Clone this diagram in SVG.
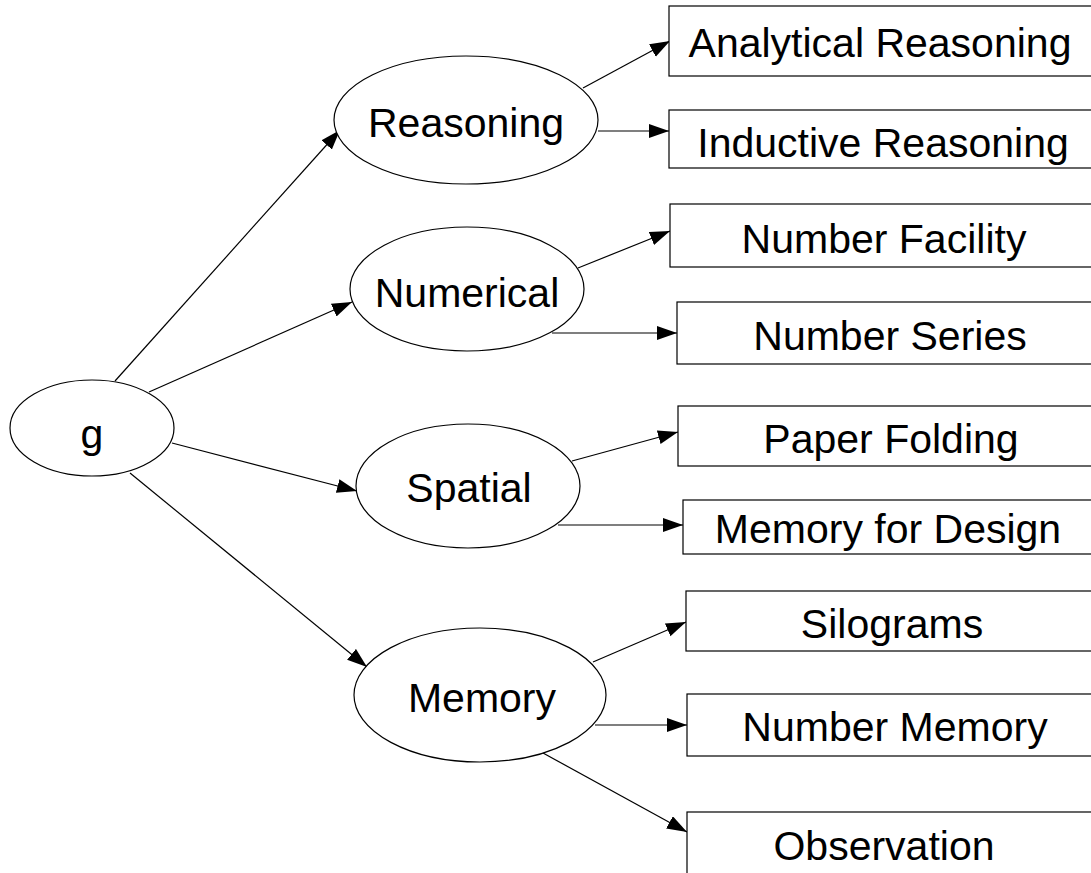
<svg xmlns="http://www.w3.org/2000/svg" width="1091" height="873" viewBox="0 0 1091 873">
<style>
.n ellipse,.n rect{fill:#fff;stroke:#000;stroke-width:1.2}
text{font-family:"Liberation Sans",Arial,sans-serif;font-size:41px;fill:#000;text-anchor:middle}
.e line{stroke:#000;stroke-width:1.2;marker-end:url(#ah)}
</style>
<defs>
<marker id="ah" markerUnits="userSpaceOnUse" markerWidth="22" markerHeight="16" refX="20" refY="7" orient="auto">
<path d="M0,0 L20,7 L0,14 z" fill="#000"/>
</marker>
</defs>
<rect width="1091" height="873" fill="#fff"/>
<g class="e" id="edges">
<line x1="115" y1="381" x2="340" y2="130"/>
<line x1="149" y1="392" x2="352" y2="302"/>
<line x1="172" y1="443" x2="357" y2="491"/>
<line x1="130" y1="473" x2="367" y2="667"/>
<line x1="583" y1="88" x2="670" y2="41"/>
<line x1="598" y1="131" x2="669" y2="131"/>
<line x1="578" y1="268" x2="670" y2="231"/>
<line x1="552" y1="333" x2="677" y2="333"/>
<line x1="572" y1="461" x2="678" y2="432"/>
<line x1="558" y1="525" x2="683" y2="525"/>
<line x1="593" y1="662" x2="686" y2="622"/>
<line x1="595" y1="725" x2="687" y2="725"/>
<line x1="543" y1="753" x2="687" y2="832"/>
</g>
<g class="n" id="g"><ellipse cx="92" cy="428" rx="82" ry="48"/><text x="92" y="448">g</text></g>
<g class="n" id="reasoning"><ellipse cx="466" cy="120" rx="132" ry="64"/><text x="466" y="137">Reasoning</text></g>
<g class="n" id="numerical"><ellipse cx="467" cy="289" rx="117" ry="62"/><text x="467" y="307">Numerical</text></g>
<g class="n" id="spatial"><ellipse cx="468" cy="486" rx="112" ry="62"/><text x="469" y="502">Spatial</text></g>
<g class="n" id="memory"><ellipse cx="480" cy="695" rx="126" ry="67"/><text x="482" y="712">Memory</text></g>
<g class="n" id="analytical"><rect x="669" y="6" width="440" height="70"/><text x="880" y="57">Analytical Reasoning</text></g>
<g class="n" id="inductive"><rect x="669" y="110" width="440" height="58"/><text x="883" y="157">Inductive Reasoning</text></g>
<g class="n" id="numberfacility"><rect x="670" y="204" width="440" height="63"/><text x="884" y="253">Number Facility</text></g>
<g class="n" id="numberseries"><rect x="677" y="302" width="440" height="62"/><text x="890" y="350">Number Series</text></g>
<g class="n" id="paperfolding"><rect x="678" y="406" width="440" height="60"/><text x="891" y="453">Paper Folding</text></g>
<g class="n" id="memoryfordesign"><rect x="683" y="500" width="440" height="54"/><text x="888" y="543">Memory for Design</text></g>
<g class="n" id="silograms"><rect x="686" y="591" width="440" height="60"/><text x="892" y="638">Silograms</text></g>
<g class="n" id="numbermemory"><rect x="687" y="694" width="440" height="62"/><text x="895" y="741">Number Memory</text></g>
<g class="n" id="observation"><rect x="687" y="812" width="440" height="80"/><text x="884" y="860">Observation</text></g>
</svg>
